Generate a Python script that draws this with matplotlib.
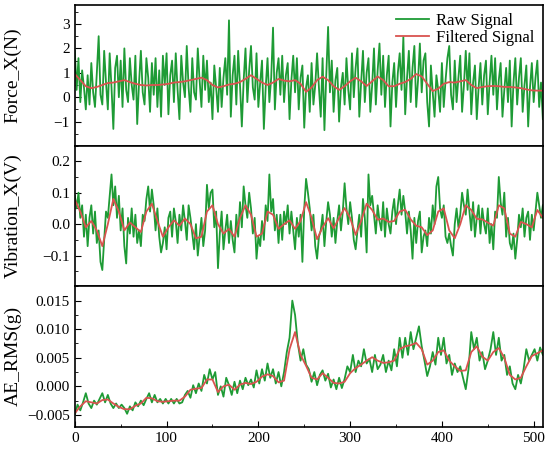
import numpy as np
import matplotlib
matplotlib.use("Agg")
import matplotlib.pyplot as plt
from matplotlib.ticker import AutoMinorLocator

plt.rcParams["font.family"] = ["Liberation Serif", "DejaVu Serif"]

# force / vibration raw every 2 samples, AE raw every 3, filtered every 6
force_raw = [
    1.9, 0.3, 1.6, -0.2, 1.1, 0.4, -0.5, 0.9, -0.3, 1.4, 0.2, -0.4, 1.0, 2.5, 0.1, -0.3,
    1.9, 0.6, -0.5, 1.8, 0.4, -1.3, 1.2, 1.7, 0.0, 1.5, -0.4, 2.0, 0.3, -0.2, 1.6, 0.5,
    -0.1, 1.7, -1.1, 0.6, 1.9, 0.2, -0.3, 1.6, 0.8, -0.6, 1.4, 0.1, 1.6, -0.4, 1.1, -0.8,
    1.7, 0.5, 1.8, -0.7, 0.9, 1.5, -0.2, 1.8, 0.3, -0.9, 1.7, 0.6, 0.0, 2.1, 0.4, -0.6,
    1.6, 0.2, -0.1, 2.0, 0.7, -0.4, 1.7, 0.3, 1.5, -0.2, 0.6, -0.9, 1.3, 0.4, -0.6, 1.2,
    -0.4, 0.8, 1.6, 0.1, 3.15, -0.8, 0.9, 1.7, -0.3, 1.9, 0.5, -1.2, 0.7, 2.0, -0.2, 1.1,
    2.1, 0.4, -0.1, 1.8, -0.4, 0.6, 1.5, -1.3, 0.4, 1.6, -0.2, 0.8, 2.85, -0.5, 1.0, 1.6,
    0.1, 1.7, -0.2, 0.9, 1.4, -0.9, 0.7, 1.7, 0.2, 1.6, -0.5, 0.8, 1.3, -1.25, 0.4, 0.9,
    -0.6, 1.4, -0.3, 0.5, 1.8, 0.4, -0.8, 1.6, -1.35, 0.9, 2.88, 0.2, 1.5, -0.6, 0.7, 1.2,
    -1.0, 0.4, 1.0, -0.3, 1.6, 0.3, -0.5, 1.8, 0.0, 1.2, 2.0, -0.8, 0.6, 1.9, -0.2, 1.0,
    1.6, -0.6, 0.5, 2.0, -0.3, 1.1, 2.2, 0.1, 1.7, -0.4, 0.9, 1.7, -1.2, 0.6, 1.4, -0.4,
    1.0, 1.8, 0.3, 2.47, -0.7, 0.8, 1.9, -0.2, 1.2, 2.1, -0.4, 0.7, 2.2, 0.2, 1.5, 1.8,
    -0.2, -1.2, 1.3, 0.2, -0.8, 0.9, 0.3, -0.6, 1.4, -0.4, 0.7, 1.6, 2.1, 0.1, -0.5, 1.5,
    -0.2, 0.8, 1.7, -0.6, 0.5, 1.9, 0.3, 1.8, -0.7, 0.6, 1.3, -0.9, 0.4, 1.4, -0.3, 0.9,
    1.5, -0.7, 0.6, 1.7, 0.1, 1.6, -0.5, 0.7, 1.4, -0.8, 0.3, 1.2, -0.2, 1.5, -1.2, 0.6,
    1.6, -0.3, 0.8, 1.6, -0.6, 0.5, 1.3, -1.2, 0.4, 1.4, -0.2, 0.8, 1.5, -0.4, 0.6, -0.9,
]
force_filt = [
    0.95, 0.7, 0.45, 0.37, 0.42, 0.5, 0.58, 0.6, 0.65, 0.7,
    0.62, 0.55, 0.5, 0.48, 0.5, 0.5, 0.52, 0.55, 0.6, 0.62,
    0.65, 0.7, 0.75, 0.8, 0.7, 0.5, 0.4, 0.45, 0.52, 0.55,
    0.62, 0.75, 0.9, 0.75, 0.6, 0.5, 0.6, 0.75, 0.68, 0.65,
    0.7, 0.55, 0.22, 0.4, 0.7, 0.84, 0.7, 0.45, 0.3, 0.45,
    0.65, 0.8, 0.65, 0.46, 0.65, 0.85, 0.7, 0.45, 0.45, 0.55,
    0.62, 0.75, 0.95, 0.85, 0.55, 0.25, 0.35, 0.55, 0.62, 0.6,
    0.65, 0.7, 0.5, 0.37, 0.42, 0.45, 0.46, 0.45, 0.42, 0.42,
    0.4, 0.37, 0.32, 0.28, 0.27, 0.27,
]
vib_raw = [
    0.09, 0.05, 0.1, 0.02, 0.06, -0.04, 0.03, -0.07, 0.02, 0.06, -0.03, 0.04, -0.06, -0.02, -0.12, -0.146,
    -0.05, 0.04, 0.02, 0.09, 0.158, 0.06, 0.12, 0.02, 0.09, -0.02, 0.05, -0.07, -0.125, 0.02, -0.03, 0.05,
    -0.04, 0.03, -0.06, -0.02, -0.07, 0.03, 0.01, 0.08, 0.12, 0.04, 0.11, 0.06, -0.02, 0.05, -0.04, -0.09,
    -0.06, -0.01, -0.08, 0.02, 0.04, -0.04, 0.05, 0.01, -0.06, 0.03, -0.02, 0.06, 0.01, -0.05, 0.06, 0.02,
    -0.03, -0.08, 0.0, -0.1, -0.04, 0.02, -0.07, -0.02, 0.125, 0.05, 0.1, 0.11, -0.01, 0.04, -0.14, -0.03,
    0.04, -0.08, -0.02, 0.03, -0.06, 0.01, -0.05, -0.09, 0.03, -0.04, 0.07, -0.01, 0.12, 0.06, 0.02, 0.1,
    0.05, -0.03, 0.02, -0.11, -0.04, -0.07, 0.01, -0.05, 0.06, 0.01, 0.158, 0.04, 0.08, -0.02, 0.03, -0.06,
    0.03, -0.05, 0.04, 0.0, 0.06, -0.03, 0.04, -0.02, -0.08, 0.02, -0.04, 0.03, -0.12, 0.05, 0.144, 0.1,
    0.05, -0.02, 0.03, -0.07, -0.11, -0.04, -0.02, 0.03, -0.07, 0.01, 0.07, 0.03, -0.04, 0.02, -0.06, 0.01,
    0.06, -0.02, 0.04, 0.13, 0.05, 0.0, 0.07, 0.02, -0.05, -0.08, -0.02, 0.03, -0.04, 0.08, 0.02, -0.09,
    0.158, 0.06, 0.09, 0.03, -0.03, 0.06, 0.01, -0.02, 0.07, -0.04, 0.05, 0.0, -0.03, 0.04, 0.08, 0.0,
    0.06, 0.11, 0.03, 0.09, 0.04, -0.03, 0.04, -0.02, -0.11, 0.02, -0.06, 0.01, 0.04, -0.09, -0.04, -0.02,
    -0.07, 0.02, -0.03, 0.06, 0.0, 0.12, 0.15, 0.05, 0.02, 0.06, -0.04, -0.06, -0.03, -0.07, -0.1, 0.0,
    0.05, -0.01, 0.03, 0.1, 0.06, 0.03, 0.11, 0.04, -0.02, 0.07, -0.04, 0.02, 0.06, -0.03, 0.05, 0.0,
    -0.03, 0.05, -0.06, 0.0, -0.08, 0.04, 0.02, 0.15, 0.07, 0.03, 0.1, -0.04, 0.02, -0.06, -0.08, -0.03,
    -0.11, -0.05, 0.03, -0.01, 0.05, -0.04, 0.02, 0.04, -0.05, 0.03, -0.02, 0.04, 0.1, 0.06, 0.02, 0.06,
]
vib_filt = [
    0.078, 0.04, -0.01, 0.01, -0.02, -0.07, 0.0, 0.08, 0.04, -0.02,
    0.005, -0.01, -0.025, 0.04, 0.065, 0.01, -0.04, -0.01, 0.012, -0.005,
    0.018, 0.0, -0.045, -0.04, 0.04, 0.06, 0.0, -0.03, -0.015, -0.04,
    0.02, 0.06, 0.03, -0.04, -0.03, 0.04, 0.03, -0.015, 0.0, 0.012,
    -0.015, 0.01, 0.07, 0.02, -0.048, -0.01, 0.019, -0.013, 0.02, 0.051,
    0.02, -0.034, 0.01, 0.065, 0.045, 0.014, 0.018, 0.007, 0.01, 0.04,
    0.046, 0.015, -0.005, -0.01, -0.035, -0.02, 0.04, 0.05, -0.02, -0.045,
    0.0, 0.06, 0.045, 0.017, 0.015, 0.005, -0.005, 0.06, 0.05, -0.03,
    -0.04, 0.007, 0.0, -0.01, 0.045, 0.02,
]
ae_raw = [
    -0.005, -0.0032, -0.0042, -0.0028, -0.0012, -0.003, -0.0038, -0.0025, -0.0032, -0.0022,
    -0.0012, -0.0028, -0.0015, -0.003, -0.0038, -0.003, -0.0038, -0.0032, -0.0038, -0.0048,
    -0.0035, -0.0042, -0.0028, -0.0035, -0.0025, -0.0033, -0.0022, -0.0012, -0.0028, -0.0015,
    -0.0028, -0.0022, -0.003, -0.0022, -0.003, -0.0022, -0.003, -0.0022, -0.003, -0.0028,
    -0.0015, -0.0008, -0.002, 0.0002, -0.0012, 0.0005, -0.0008, 0.002, 0.0005, 0.003,
    0.0012, 0.0025, -0.0015, 0.0, -0.0018, 0.0015, 0.0002, -0.0015, 0.0008, -0.0012,
    0.001, -0.0005, 0.0015, 0.0002, 0.0012, -0.0002, 0.0028, 0.0005, 0.003, 0.001,
    0.004, 0.0015, 0.003, 0.0005, 0.0025, 0.0, 0.0025, 0.006, 0.0085, 0.015,
    0.0125, 0.0075, 0.0045, 0.0065, 0.0038, 0.003, 0.0008, 0.0025, 0.0002, 0.002,
    0.0028, 0.001, 0.0022, -0.0002, 0.0012, -0.0005, 0.0015, -0.0003, 0.0013, 0.0035,
    0.0025, 0.0055, 0.0025, 0.0045, 0.0035, 0.0065, 0.004, 0.0048, 0.0025, 0.0055,
    0.003, 0.0038, 0.0055, 0.0025, 0.0045, 0.0028, 0.0065, 0.0035, 0.0085, 0.005,
    0.0085, 0.0055, 0.0095, 0.0065, 0.0085, 0.0105, 0.007, 0.0045, 0.0018, 0.0035,
    0.006, 0.0038, 0.0085, 0.0055, 0.0085, 0.004, 0.0055, 0.002, 0.004, 0.0025,
    0.0035, 0.0015, -0.0005, 0.003, 0.0095, 0.0065, 0.0085, 0.0045, 0.006, 0.003,
    0.0045, 0.0065, 0.0095, 0.0055, 0.0085, 0.0045, 0.0055, 0.002, 0.0035, 0.0005,
    -0.0005, 0.002, 0.0005, 0.003, 0.0065, 0.0045, 0.0055, 0.0065, 0.0045, 0.0068,
    0.0055,
]
ae_filt = [
    -0.0047, -0.0035, -0.0026, -0.0028, -0.003, -0.0024, -0.0023, -0.003, -0.0036, -0.004,
    -0.004, -0.0034, -0.003, -0.002, -0.0021, -0.0026, -0.0027, -0.0026, -0.0025, -0.0025,
    -0.0018, -0.0006, -0.0004, -0.0003, 0.0012, 0.0012, -0.001, 0.0, 0.0003, -0.0006,
    0.0003, 0.0006, 0.0004, 0.0008, 0.0017, 0.0021, 0.0018, 0.0007, 0.001, 0.0065,
    0.0095, 0.0055, 0.0036, 0.0015, 0.0012, 0.0023, 0.0015, 0.0006, 0.0005, 0.0008,
    0.0023, 0.0032, 0.0038, 0.0045, 0.0051, 0.0045, 0.0041, 0.0042, 0.0045, 0.0065,
    0.007, 0.0072, 0.0076, 0.0065, 0.0038, 0.0045, 0.006, 0.0063, 0.0045, 0.0035,
    0.0027, 0.0028, 0.006, 0.007, 0.0052, 0.0045, 0.006, 0.0067, 0.005, 0.002,
    0.0012, 0.0015, 0.0035, 0.0053, 0.0058, 0.0063,
]

panels = [
    ("Force_X(N)", force_raw, 2, force_filt, (-1.98, 3.78), [-1, 0, 1, 2, 3], "{:g}"),
    ("Vibration_X(V)", vib_raw, 2, vib_filt, (-0.197, 0.25), [-0.1, 0.0, 0.1, 0.2], "{:.1f}"),
    ("AE_RMS(g)", ae_raw, 3, ae_filt, (-0.00705, 0.01754),
     [-0.005, 0.0, 0.005, 0.010, 0.015], "{:.3f}"),
]

green = "#1e9b35"
red = "#d9534f"

fig, axes = plt.subplots(3, 1, figsize=(5.5, 4.51), dpi=100, sharex=True)
fig.subplots_adjust(left=0.136, right=0.987, top=0.989, bottom=0.054, hspace=0)

for ax, (label, raw, step, filt, ylim, yticks, fmt) in zip(axes, panels):
    x_raw = np.arange(len(raw)) * step
    x_filt = np.arange(len(filt)) * 6
    ax.plot(x_raw, raw, color=green, lw=1.3, label="Raw Signal")
    ax.plot(x_filt, filt, color=red, lw=1.3, label="Filtered Signal")
    ax.set_ylim(*ylim)
    ax.set_yticks(yticks)
    ax.set_yticklabels([fmt.format(v).replace("-", "\u2212") for v in yticks])
    ax.yaxis.set_minor_locator(AutoMinorLocator(2))
    ax.set_ylabel(label, fontsize=14)
    ax.tick_params(axis="both", which="both", direction="in", labelsize=11)
    ax.tick_params(which="major", length=4)
    ax.tick_params(which="minor", length=2)
    for s in ax.spines.values():
        s.set_linewidth(1.2)

for ax in axes[:2]:
    ax.tick_params(axis="x", which="both", bottom=False)

axes[2].set_xlim(0, 510)
axes[2].set_xticks([0, 100, 200, 300, 400, 500])
axes[2].xaxis.set_minor_locator(AutoMinorLocator(2))

axes[0].legend(loc="upper right", frameon=False, fontsize=12,
               handlelength=2.0, handletextpad=0.4, borderaxespad=0.1,
               labelspacing=0.05)

fig.align_ylabels(axes)
fig.savefig("out.png", dpi=100)
